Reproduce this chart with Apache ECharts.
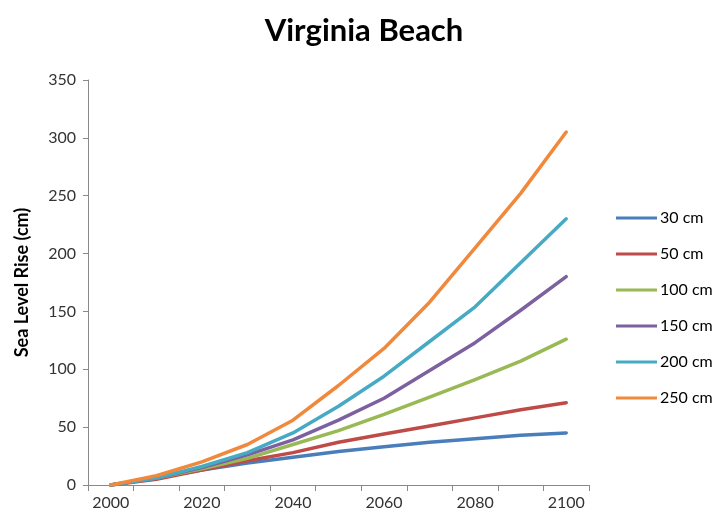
<!DOCTYPE html>
<html>
<head>
<meta charset="utf-8">
<script src="https://cdn.jsdelivr.net/npm/echarts@6/dist/echarts.min.js"></script>
<style>
html,body{margin:0;padding:0;background:#fff;}
#chart{width:719px;height:519px;}
</style>
</head>
<body>
<div id="chart"></div>
<script>
const years = ['2000','2010','2020','2030','2040','2050','2060','2070','2080','2090','2100'];
const s30  = [0, 6, 13, 19, 24, 29, 33, 37, 40, 43, 45];
const s50  = [0, 5, 13, 21, 28, 37, 44, 51, 58, 65, 71];
const s100 = [0, 6, 14, 23, 35, 47, 61, 76, 91, 107, 126];
const s150 = [0, 6, 15, 26, 39, 56, 75, 99, 123, 151, 180];
const s200 = [0, 6, 16, 28, 45, 68, 94, 124, 154, 192, 230];
const s250 = [0, 8, 20, 35, 56, 86, 118, 158, 205, 252, 305];
const seriesNames = ['30 cm','50 cm','100 cm','150 cm','200 cm','250 cm'];
const seriesData = [s30, s50, s100, s150, s200, s250];
const colors = ['#4A7EBB','#BE4B48','#98B954','#7D60A0','#46AAC5','#F0893B'];

const font = 'Lato, "Open Sans", "Noto Sans", sans-serif';
const chart = echarts.init(document.getElementById('chart'), null, {renderer:'canvas'});
chart.setOption({
  animation: false,
  backgroundColor: '#ffffff',
  color: colors,
  title: {
    text: 'Virginia Beach',
    left: 359, top: 10, textAlign: 'center',
    textStyle: {fontFamily: font, fontSize: 31, fontWeight: 'bold', color: '#000'}
  },
  grid: {left: 88, right: 130, top: 80, bottom: 34, containLabel: false},
  legend: {
    orient: 'vertical', left: 611, top: 205,
    icon: 'rect', itemWidth: 41, itemHeight: 3, itemGap: 20,
    textStyle: {fontFamily: font, fontSize: 16, color: '#000', padding: [0,0,0,-2]},
    data: seriesNames
  },
  xAxis: {
    type: 'category', data: years, boundaryGap: true,
    axisLine: {lineStyle: {color: '#898989', width: 1}},
    axisTick: {show: true, interval: 0, length: 6, lineStyle: {color: '#898989'}},
    axisLabel: {interval: 1, fontFamily: font, fontSize: 16, color: '#333', margin: 10}
  },
  yAxis: {
    type: 'value', min: 0, max: 350, interval: 50,
    name: 'Sea Level Rise (cm)', nameLocation: 'middle', nameGap: 57, nameRotate: 90,
    nameTextStyle: {fontFamily: font, fontSize: 18, fontWeight: 'bold', color: '#000'},
    axisLine: {show: true, lineStyle: {color: '#898989', width: 1}},
    axisTick: {show: true, length: 5, lineStyle: {color: '#898989'}},
    splitLine: {show: false},
    axisLabel: {fontFamily: font, fontSize: 16, color: '#333', margin: 12}
  },
  series: seriesNames.map((n, i) => ({
    name: n, type: 'line', data: seriesData[i], symbol: 'none',
    lineStyle: {width: 3.5, color: colors[i], cap: 'round', join: 'round'},
    itemStyle: {color: colors[i]}
  }))
});
</script>
</body>
</html>
